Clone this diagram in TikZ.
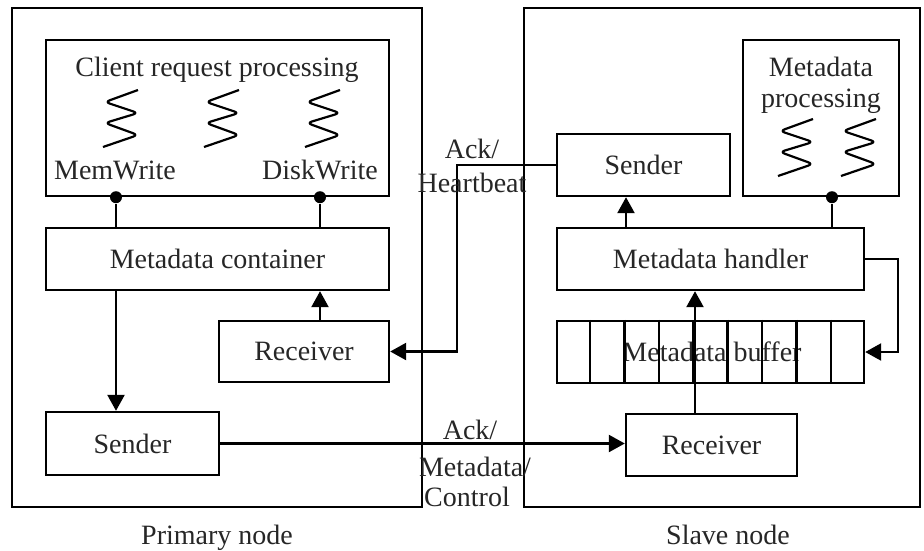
\documentclass[tikz,border=0pt]{standalone}
\usepackage{fontspec}
\setmainfont{Liberation Serif}
\usetikzlibrary{arrows.meta,calc}
\begin{document}
\begin{tikzpicture}[x=1pt,y=-1pt,
  line width=2.4pt,
  txt/.style={font=\fontsize{28}{32}\selectfont, text=black!85, inner sep=0pt},
  blk/.style={draw, inner sep=0pt, minimum width=#1},
  arr/.style={-{Triangle[length=16pt,width=17pt]}},
  dot/.style={fill=black, circle, inner sep=0pt, minimum size=12pt},
  springpic/.pic={\draw[line width=2.2pt, rounded corners=5pt]
     (17,-28) -- (-16,-16) -- (17,-5) -- (-16,5) -- (17,17) -- (-18,29);}
]
\useasboundingbox (0,0) rectangle (924,550);

% node frames
\node[blk=410, minimum height=499] (prim) at (217,257.5) {};
\node[blk=396, minimum height=499] (slave) at (722,257.5) {};
\node[txt, anchor=base] at (217,544) {Primary node};
\node[txt, anchor=base] at (728,544) {Slave node};

% primary side
\node[blk=343, minimum height=156] (crp) at (217.5,118) {};
\node[txt] at (217,70) {Client request processing};
\pic at (121,118) {springpic};
\pic at (222,118) {springpic};
\pic at (323,118) {springpic};
\node[txt] at (115,170) {MemWrite};
\node[txt] at (320,170) {DiskWrite};

\node[blk=343, minimum height=62, txt] (mc) at (217.5,259) {Metadata container};
\node[blk=170, minimum height=61, txt] (recvP) at (304,351.5) {Receiver};
\node[blk=173, minimum height=63, txt] (sendP) at (132.5,443.5) {Sender};

\coordinate (pl) at (116,0);
\coordinate (pr) at (320,0);
\node[dot] (dmw) at (crp.south -| pl) {};
\node[dot] (ddw) at (crp.south -| pr) {};
\draw (dmw) -- (dmw |- mc.north);
\draw (ddw) -- (ddw |- mc.north);
\draw[arr] (recvP.north -| pr) -- (mc.south -| pr);
\draw[arr] (mc.south -| pl) -- (sendP.north -| pl);

% slave side
\node[blk=173, minimum height=62, txt] (sendS) at (643.5,165) {Sender};
\node[blk=156, minimum height=156] (mp) at (821,118) {};
\node[txt, align=center, font=\fontsize{28}{31}\selectfont] at (821,85.5) {Metadata\\processing};
\pic at (796,147) {springpic};
\pic at (859,147) {springpic};
\node[blk=307, minimum height=62, txt] (mh) at (710.5,259) {Metadata handler};

\node[txt] at (712,352) {Metadata buffer};
\node[blk=307, minimum height=62] (buf) at (710.5,352) {};
\foreach \i in {1,...,8}
  \draw ($(buf.north west)!\i/9!(buf.north east)$) -- ($(buf.south west)!\i/9!(buf.south east)$);

\node[blk=171, minimum height=62, txt] (recvS) at (711.5,445) {Receiver};

\coordinate (sa) at (626,0);
\coordinate (sb) at (695,0);
\coordinate (sc) at (832,0);
\node[dot] (dmp) at (mp.south -| sc) {};
\draw (dmp) -- (dmp |- mh.north);
\draw[arr] (mh.north -| sa) -- (sendS.south -| sa);
\draw[arr] (recvS.north -| sb) -- (mh.south -| sb);
\coordinate (fb) at (898,300);
\draw[arr] (mh.east) -| (fb) |- (buf.east);

% links between the nodes
\coordinate (hb) at (457,260);
\draw[arr] (sendS.west) -| (hb) |- (recvP.east);
\node[txt] at (472,149) {Ack/};
\node[txt] at (472,183) {Heartbeat};

\draw[arr] (sendP.east) -- (sendP.east -| recvS.west);
\node[txt] at (470,430) {Ack/};
\node[txt] at (475,467) {Metadata/};
\node[txt] at (467,497) {Control};
\end{tikzpicture}
\end{document}
